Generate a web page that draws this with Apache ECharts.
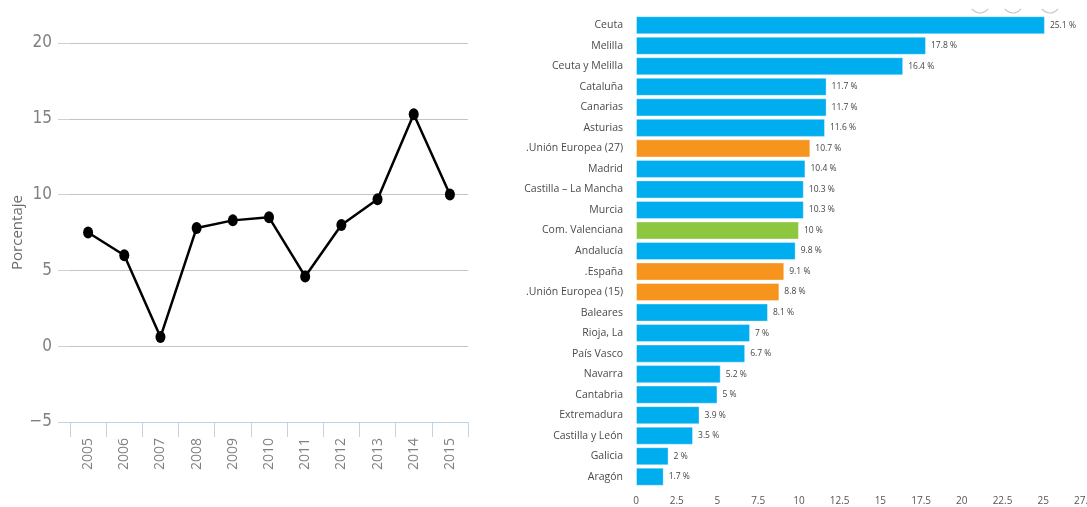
<!DOCTYPE html>
<html>
<head>
<meta charset="utf-8">
<script src="https://cdn.jsdelivr.net/npm/echarts@6/dist/echarts.min.js"></script>
<style>
  html, body { margin: 0; padding: 0; background: #fff; }
  #chart { width: 1087px; height: 507px; }
</style>
</head>
<body>
<div id="chart"></div>
<script>
// left: yearly percentage
const years = ['2005', '2006', '2007', '2008', '2009', '2010', '2011', '2012', '2013', '2014', '2015'];
const percent = [7.5, 6.0, 0.6, 7.8, 8.3, 8.5, 4.6, 8.0, 9.7, 15.3, 10.0];
const yTicks = [-5, 0, 5, 10, 15, 20];

// right: regions, sorted top to bottom
const regions = ['Ceuta', 'Melilla', 'Ceuta y Melilla', 'Cataluña', 'Canarias', 'Asturias',
  '.Unión Europea (27)', 'Madrid', 'Castilla – La Mancha', 'Murcia', 'Com. Valenciana',
  'Andalucía', '.España', '.Unión Europea (15)', 'Baleares', 'Rioja, La', 'País Vasco',
  'Navarra', 'Cantabria', 'Extremadura', 'Castilla y León', 'Galicia', 'Aragón'];
const regionValues = [25.1, 17.8, 16.4, 11.7, 11.7, 11.6, 10.7, 10.4, 10.3, 10.3, 10,
  9.8, 9.1, 8.8, 8.1, 7, 6.7, 5.2, 5, 3.9, 3.5, 2, 1.7];
const xTicks = [0, 2.5, 5, 7.5, 10, 12.5, 15, 17.5, 20, 22.5, 25, 27.5];

function barColor(name) {
  if (name.charAt(0) === '.') return '#f7941d';
  if (name === 'Com. Valenciana') return '#8dc63f';
  return '#00adef';
}

const chart = echarts.init(document.getElementById('chart'));

// the little cut-off toolbar buttons at the top right
const buttons = [980, 1013, 1050].map(cx => ({
  type: 'arc',
  shape: { cx: cx, cy: 3, r: 10, startAngle: Math.PI * 0.2, endAngle: Math.PI * 0.8 },
  style: { stroke: '#c8c8c8', lineWidth: 1.2, fill: null },
  z: 0
}));

const option = {
  animation: false,
  graphic: buttons,
  grid: [
    { left: 70, right: 619, top: 43, bottom: 85, outerBoundsMode: 'none' },
    { left: 636, right: 3, top: 15, bottom: 20, outerBoundsMode: 'none' }
  ],
  xAxis: [
    {
      gridIndex: 0,
      type: 'category',
      data: years,
      boundaryGap: true,
      axisLine: { onZero: false, lineStyle: { color: '#c3d3e6', width: 1 } },
      axisTick: { show: true, length: 15, lineStyle: { color: '#c3d3e6' } },
      axisLabel: {
        rotate: 90,
        margin: 16,
        fontSize: 14,
        color: '#808080',
        fontFamily: 'Open Sans'
      },
      splitLine: { show: false }
    },
    {
      gridIndex: 1,
      type: 'value',
      min: xTicks[0],
      max: xTicks[xTicks.length - 1],
      interval: 2.5,
      axisLine: { show: false },
      axisTick: { show: false },
      splitLine: { show: false },
      axisLabel: { margin: 9, fontSize: 10, color: '#555', fontFamily: 'Open Sans' }
    }
  ],
  yAxis: [
    {
      gridIndex: 0,
      type: 'value',
      min: yTicks[0],
      max: yTicks[yTicks.length - 1],
      interval: 5,
      name: 'Porcentaje',
      nameLocation: 'middle',
      nameGap: 45,
      nameTextStyle: { fontSize: 15, color: '#6a6a6a', fontFamily: 'Open Sans' },
      axisLine: { show: false },
      axisTick: { show: true, length: 12, lineStyle: { color: '#c3d3e6' } },
      axisLabel: {
        margin: 18,
        fontSize: 17,
        color: '#808080',
        fontFamily: 'DejaVu Sans Condensed, Open Sans, sans-serif',
        formatter: v => String(v).replace('-', '\u2212')
      },
      splitLine: { lineStyle: { color: '#c4c4c4', width: 1 } }
    },
    {
      gridIndex: 1,
      type: 'category',
      data: regions,
      inverse: true,
      axisLine: { show: false },
      axisTick: { show: false },
      axisLabel: { margin: 13, fontSize: 10.5, color: '#4a4a4a', fontFamily: 'Open Sans' }
    }
  ],
  series: [
    {
      type: 'line',
      xAxisIndex: 0,
      yAxisIndex: 0,
      data: percent,
      symbol: 'circle',
      symbolSize: [10, 12],
      itemStyle: { color: '#000' },
      lineStyle: { color: '#000', width: 2.5 }
    },
    {
      type: 'bar',
      xAxisIndex: 1,
      yAxisIndex: 1,
      barCategoryGap: '12%',
      data: regionValues.map((v, i) => ({
        value: v,
        itemStyle: { color: barColor(regions[i]) }
      })),
      itemStyle: { borderColor: 'rgba(255,255,255,0.35)', borderWidth: 1 },
      label: {
        show: true,
        position: 'right',
        distance: 5,
        fontSize: 8.5,
        color: '#444',
        fontFamily: 'Open Sans',
        formatter: p => p.value + ' %'
      }
    }
  ]
};

chart.setOption(option);
</script>
</body>
</html>
